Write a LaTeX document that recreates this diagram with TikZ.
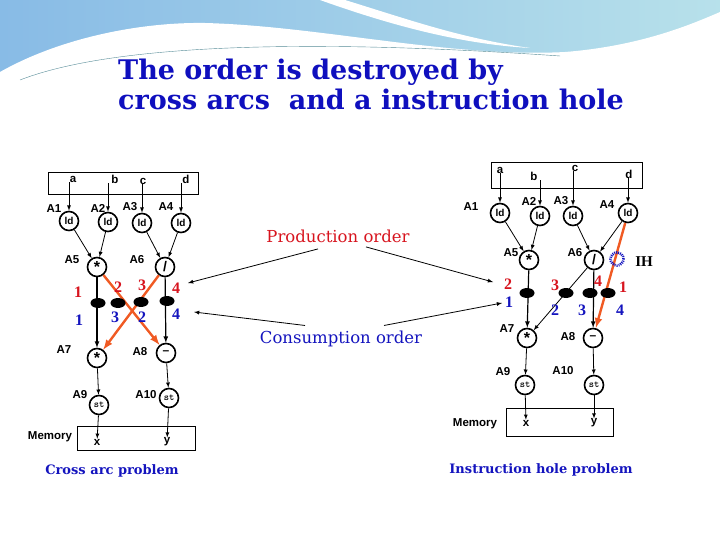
\documentclass[tikz,border=0pt]{standalone}
\usepackage{fontspec}
\setmainfont{DejaVu Serif}
\setsansfont{Liberation Sans}
\newfontfamily\numfont{Liberation Serif}
\usetikzlibrary{arrows,shapes}
\definecolor{ttlblue}{RGB}{15,15,190}
\definecolor{ordred}{RGB}{215,20,30}
\definecolor{ordblue}{RGB}{20,20,190}
\definecolor{arcorange}{RGB}{240,90,35}
\definecolor{slideteal}{RGB}{125,200,218}

\begin{document}
\begin{tikzpicture}[x=1pt,y=-1pt,>=latex,
  op/.style={circle,draw,line width=1.6pt,minimum size=19pt,inner sep=0pt,font=\sffamily\bfseries\fontsize{10}{10}\selectfont},
  tok/.style={ellipse,fill=black,minimum width=15pt,minimum height=10pt,inner sep=0pt},
  lab/.style={font=\sffamily\bfseries\fontsize{11.5}{11.5}\selectfont,inner sep=0pt},
  pnum/.style={font=\numfont\bfseries\fontsize{16}{16}\selectfont,text=ordred,inner sep=0pt},
  cnum/.style={pnum,text=ordblue},
  inbox/.style={draw,line width=0.8pt,inner sep=0pt},
  arc/.style={->,line width=0.8pt},
  xarc/.style={->,line width=2.4pt,draw=arcorange},
  note/.style={->,line width=0.8pt}]
  \useasboundingbox (0,0) rectangle (720,540);
  % slide background
  \shade[left color=slideteal!85!blue!80, right color=slideteal!55] (0,0) rectangle (720,80);
  \fill[white] (0,80) -- (0,72) .. controls (60,38) and (140,22) .. (205,23)
    .. controls (320,26) and (450,58) .. (565,52) .. controls (640,46) and (690,25) .. (720,12) -- (720,80) -- cycle;
  \fill[white] (320,0) -- (345,0) .. controls (410,20) and (460,38) .. (530,48)
    .. controls (460,44) and (390,25) .. (320,0) -- cycle;
  \draw[slideteal!70!black,line width=0.4pt] (20,80) .. controls (110,45) and (300,38) .. (560,56);

  % title
  \node[anchor=west,inner sep=0pt,text=ttlblue,font=\bfseries\fontsize{27}{27}\selectfont] (ttl1) at (118,72) {The order is destroyed by};
  \node[anchor=west,inner sep=0pt,text=ttlblue,font=\bfseries\fontsize{27}{27}\selectfont] (ttl2) at (118,99) {cross arcs\ \ and a instruction hole};

  % ---- cross arc problem ----
  \node[inbox,minimum width=150pt,minimum height=22pt] (boxL) at (123,183) {};
  \node[lab] (la) at (73,179) {a};
  \node[lab] (lb) at (115,179) {b};
  \node[lab] (lc) at (143,181) {c};
  \node[lab] (ld) at (186,179) {d};
  \node[op] (ld1) at (69,221) {ld};
  \node[op] (ld2) at (108,222) {ld};
  \node[op] (ld3) at (142,223) {ld};
  \node[op] (ld4) at (181,223) {ld};
  \node[lab] at (54,209) {A1};
  \node[lab] at (98,208) {A2};
  \node[lab] at (130,207) {A3};
  \node[lab] at (166,207) {A4};
  \foreach \s/\t in {la/ld1,lb/ld2,lc/ld3,ld/ld4}
    \draw[arc] (\s.south -| \t) -- (\t);
  \node[op,font=\sffamily\bfseries\fontsize{16}{16}\selectfont] (mulL) at (97,267) {*};
  \node[op,font=\sffamily\bfseries\fontsize{14}{14}\selectfont] (divL) at (165,267) {/};
  \node[lab] at (72,260) {A5};
  \node[lab] at (137,260) {A6};
  \draw[arc] (ld1) -- (mulL);
  \draw[arc] (ld2) -- (mulL);
  \draw[arc] (ld3) -- (divL);
  \draw[arc] (ld4) -- (divL);
  \node[op,font=\sffamily\bfseries\fontsize{16}{16}\selectfont] (mul2L) at (97,358) {*};
  \node[op,font=\sffamily\bfseries\fontsize{12}{12}\selectfont] (subL) at (166,353) {--};
  \node[lab] at (64,350) {A7};
  \node[lab] at (140,352) {A8};
  \draw[arc,line width=1.2pt] (mulL) -- (mul2L);
  \draw[arc,line width=1.2pt] (divL) -- (subL);
  \draw[xarc] (mulL) -- (subL);
  \draw[xarc] (divL) -- (mul2L);
  \node[tok] (tL1) at (98,303) {};
  \node[tok] (tL2) at (118,303) {};
  \node[tok] (tL3) at (141,302) {};
  \node[tok] (tL4) at (167,301) {};
  \node[pnum] at (78,292) {1};
  \node[pnum] at (118,287) {2};
  \node[pnum] at (142,285) {3};
  \node[pnum] at (176,288) {4};
  \node[cnum] at (79,320) {1};
  \node[cnum] at (115,317) {3};
  \node[cnum] at (142,317) {2};
  \node[cnum] at (176,314) {4};
  \node[op,font=\ttfamily\bfseries\fontsize{10}{10}\selectfont] (stL1) at (99,405) {st};
  \node[op,font=\ttfamily\bfseries\fontsize{10}{10}\selectfont] (stL2) at (169,398) {st};
  \node[lab] at (80,395) {A9};
  \node[lab] at (146,395) {A10};
  \draw[arc] (mul2L) -- (stL1);
  \draw[arc] (subL) -- (stL2);
  \node[inbox,minimum width=118pt,minimum height=24pt] (memL) at (136,438) {};
  \node[lab] (memtL) at (50,437) {Memory};
  \node[lab] (xL) at (97,442) {x};
  \node[lab] (yL) at (167,442) {y};
  \draw[arc] (stL1) -- (xL);
  \draw[arc] (stL2) -- (yL);
  \node[text=ordblue,font=\bfseries\fontsize{13}{13}\selectfont] (capL) at (112,471) {Cross arc problem};

  % ---- instruction hole problem ----
  \node[inbox,minimum width=151pt,minimum height=26pt] (boxR) at (567,175) {};
  \node[lab] (ra) at (500,170) {a};
  \node[lab] (rb) at (534,176) {b};
  \node[lab] (rc) at (575,168) {c};
  \node[lab] (rd) at (629,174) {d};
  \node[op] (rld1) at (500,213) {ld};
  \node[op] (rld2) at (540,216) {ld};
  \node[op] (rld3) at (573,216) {ld};
  \node[op] (rld4) at (628,213) {ld};
  \node[lab] at (471,207) {A1};
  \node[lab] at (529,201) {A2};
  \node[lab] at (561,201) {A3};
  \node[lab] at (607,205) {A4};
  \foreach \s/\t in {ra/rld1,rb/rld2,rc/rld3,rd/rld4}
    \draw[arc] (\s.south -| \t) -- (\t);
  \node[op,font=\sffamily\bfseries\fontsize{16}{16}\selectfont] (mulR) at (529,260) {*};
  \node[op,font=\sffamily\bfseries\fontsize{14}{14}\selectfont] (divR) at (594,260) {/};
  \node[lab] at (511,253) {A5};
  \node[lab] at (575,253) {A6};
  \draw[arc] (rld1) -- (mulR);
  \draw[arc] (rld2) -- (mulR);
  \draw[arc] (rld3) -- (divR);
  \draw[arc] (rld4) -- (divR);
  \node[op,font=\sffamily\bfseries\fontsize{16}{16}\selectfont] (mul2R) at (527,338) {*};
  \node[op,font=\sffamily\bfseries\fontsize{12}{12}\selectfont] (subR) at (593,338) {--};
  \node[lab] at (507,329) {A7};
  \node[lab] at (568,337) {A8};
  \draw[arc,line width=1.2pt] (mulR) -- (mul2R);
  \draw[arc,line width=1.2pt] (divR) -- (subR);
  \draw[arc] (divR) -- (mul2R);
  \draw[xarc] (rld4) -- (subR);
  \node[circle,draw=ordblue,line width=2.6pt,dash pattern=on 1pt off 1pt,minimum size=13pt,inner sep=0pt] (hole) at (617,259) {};
  \node[font=\numfont\bfseries\fontsize{15}{15}\selectfont,inner sep=0pt] (ihL) at (644,262) {IH};
  \node[tok] (tR1) at (527,293) {};
  \node[tok] (tR2) at (566,293) {};
  \node[tok] (tR3) at (590,293) {};
  \node[tok] (tR4) at (608,293) {};
  \node[pnum] at (508,284) {2};
  \node[pnum] at (555,285) {3};
  \node[pnum] at (598,281) {4};
  \node[pnum] at (623,287) {1};
  \node[cnum] at (509,302) {1};
  \node[cnum] at (555,310) {2};
  \node[cnum] at (582,310) {3};
  \node[cnum] at (620,310) {4};
  \node[op,font=\ttfamily\bfseries\fontsize{10}{10}\selectfont] (stR1) at (525,385) {st};
  \node[op,font=\ttfamily\bfseries\fontsize{10}{10}\selectfont] (stR2) at (594,385) {st};
  \node[lab] at (503,372) {A9};
  \node[lab] at (563,371) {A10};
  \draw[arc] (mul2R) -- (stR1);
  \draw[arc] (subR) -- (stR2);
  \node[inbox,minimum width=107pt,minimum height=28pt] (memR) at (560,422) {};
  \node[lab] (memtR) at (475,424) {Memory};
  \node[lab] (xR) at (526,423) {x};
  \node[lab] (yR) at (594,423) {y};
  \draw[arc] (stR1) -- (xR);
  \draw[arc] (stR2) -- (yR);
  \node[text=ordblue,font=\bfseries\fontsize{13}{13}\selectfont] (capR) at (541,470) {Instruction hole problem};

  % ---- order notes ----
  \node[text=ordred,font=\fontsize{16.5}{16.5}\selectfont] (prod) at (338,236) {Production order};
  \node[text=ordblue,font=\fontsize{16.5}{16.5}\selectfont] (cons) at (341,339) {Consumption order};
  \coordinate (pL) at (188,283);
  \coordinate (pR) at (493,282);
  \coordinate (cL) at (194,312);
  \coordinate (cR) at (502,303);
  \draw[note] ([xshift=-20pt,yshift=-3pt]prod.south) -- (pL);
  \draw[note] ([xshift=28pt,yshift=-1pt]prod.south) -- (pR);
  \draw[note] ([xshift=-36pt,yshift=2pt]cons.north) -- (cL);
  \draw[note] ([xshift=43pt,yshift=2pt]cons.north) -- (cR);
\end{tikzpicture}
\end{document}
